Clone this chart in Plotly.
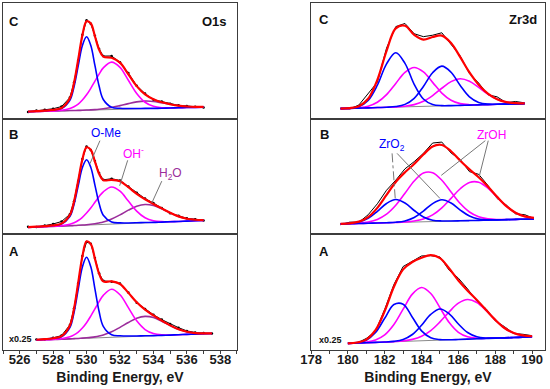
import plotly.graph_objects as go
from plotly.subplots import make_subplots

# ---------------- O1s data (intensity in % of panel height) ----------------
o1s_x_C = [526.5, 527.0, 527.5, 528.0, 528.5, 529.0, 529.25, 529.5, 529.75, 530.0, 530.25, 530.5, 530.75,
           531.0, 531.5, 532.0, 532.5, 533.0, 533.5, 534.0, 534.5, 535.0, 535.5, 536.0, 536.5, 537.0]
o1s_base_C = [6.0, 6.2, 6.4, 6.6, 6.8, 7.0, 7.05, 7.1, 7.2, 7.3, 7.4, 7.5, 7.6, 7.7, 7.9, 8.1, 8.3, 8.5, 8.7,
              8.9, 9.0, 9.2, 9.4, 9.6, 9.8, 10.0]
o1s_ome_C = [0.2, 0.3, 0.5, 0.9, 2.0, 8.9, 20.6, 38.5, 56.0, 63.5, 56.0, 38.5, 20.6, 8.9, 2.0, 0.9, 0.5, 0.3,
             0.2, 0, 0, 0, 0, 0, 0, 0]
o1s_oh_C = [0, 0, 0, 0.09, 0.46, 1.8, 3.3, 5.5, 8.9, 13.3, 18.8, 24.9, 30.9, 36.2, 41, 36.2, 24.9, 13.3, 5.5,
            1.8, 0.46, 0.09, 0, 0, 0, 0]
o1s_h2o_C = [0, 0, 0, 0, 0, 0, 0.02, 0.04, 0.07, 0.13, 0.22, 0.36, 0.58, 0.9, 1.8, 3.2, 4.7, 6.0, 6.5, 6.0,
             4.7, 3.2, 1.8, 0.9, 0.36, 0.13]
o1s_resid_C = [-0.5, 0.5, 0.8, 1.0, 1.2, 0.5, 0.3, -0.8, 0.4, 0.8, -0.3, 0.5, 0.6, 0.4, 1.5, 0.3, 1.0, 0.4,
               0.8, -0.3, 0.6, 0.5, 0.3, 0.5, 0.2, -0.5]

o1s_x_B = [526.5, 527.0, 527.5, 528.0, 528.5, 529.0, 529.25, 529.5, 529.75, 530.0, 530.25, 530.5, 530.75,
           531.0, 531.5, 532.0, 532.5, 533.0, 533.5, 534.0, 534.5, 535.0, 535.5, 536.0, 536.5, 537.0]
o1s_base_B = [6.0, 6.3, 6.6, 6.9, 7.1, 7.4, 7.55, 7.7, 7.85, 8.0, 8.15, 8.3, 8.45, 8.6, 8.9, 9.1, 9.4, 9.7,
              10.0, 10.3, 10.6, 10.9, 11.1, 11.4, 11.7, 12.0]
o1s_ome_B = [0.2, 0.3, 0.45, 0.8, 1.8, 7.9, 18.3, 34.3, 49.9, 56.5, 49.9, 34.3, 18.3, 7.9, 1.8, 0.8, 0.45,
             0.3, 0.2, 0, 0, 0, 0, 0, 0, 0]
o1s_oh_B = [0, 0, 0, 0.07, 0.36, 1.4, 2.5, 4.3, 6.9, 10.4, 14.6, 19.4, 24.2, 28.2, 32, 28.2, 19.4, 10.4, 4.3,
            1.4, 0.36, 0.07, 0, 0, 0, 0]
o1s_h2o_B = [0, 0, 0, 0, 0, 0, 0.05, 0.1, 0.18, 0.3, 0.54, 0.9, 1.4, 2.1, 4.4, 7.7, 11.5, 14.6, 15.8, 14.6,
             11.5, 7.7, 4.4, 2.1, 0.9, 0.3]
o1s_resid_B = [0.4, -0.3, 0.5, 1.2, 1.8, 0.6, 0.3, -0.7, 0.4, 0.8, -0.2, 0.5, 0.6, 0.3, 1.0, 0.8, 0.5, 0.9,
               0.6, 0.8, 0.4, -0.4, 0.6, 0.3, 0.5, -0.3]

o1s_x_A = [527.0, 527.5, 528.0, 528.5, 529.0, 529.25, 529.5, 529.75, 530.0, 530.25, 530.5, 530.75, 531.0,
           531.5, 532.0, 532.5, 533.0, 533.5, 534.0, 534.5, 535.0, 535.5, 536.0, 536.5, 537.0, 537.5]
o1s_base_A = [8.5, 8.8, 9.1, 9.3, 9.6, 9.75, 9.9, 10.05, 10.2, 10.3, 10.4, 10.55, 10.7, 11.0, 11.3, 11.5,
              11.8, 12.1, 12.4, 12.6, 12.9, 13.2, 13.5, 13.7, 14.0, 14.3]
o1s_ome_A = [0.35, 0.56, 1.0, 2.2, 9.8, 22.7, 42.5, 61.8, 70, 61.8, 42.5, 22.7, 9.8, 2.2, 1.0, 0.56, 0.35,
             0.2, 0, 0, 0, 0, 0, 0, 0, 0]
o1s_oh_A = [0, 0.01, 0.09, 0.46, 1.8, 3.3, 5.6, 8.9, 13.4, 19.0, 25.1, 31.3, 36.5, 41.5, 36.5, 25.1, 13.4,
            5.6, 1.8, 0.46, 0.09, 0.01, 0, 0, 0, 0]
o1s_h2o_A = [0, 0, 0, 0, 0, 0.05, 0.1, 0.2, 0.34, 0.58, 0.95, 1.5, 2.3, 4.7, 8.3, 12.3, 15.7, 17, 15.7, 12.3,
             8.3, 4.7, 2.3, 0.95, 0.34, 0.1]
o1s_resid_A = [0.2, -0.2, 0.3, 0.5, 0.4, 0.2, -0.5, 0.3, -0.6, 0.2, 0.6, 0.3, 0.5, -0.4, 0.4, 0.3, -0.3, 0.5,
               0.6, 0.9, 1.2, 1.4, 0.7, 0.5, 0.3, -0.2]

# ---------------- Zr3d data ----------------
zr_x_C = [179.6, 180.1, 180.6, 181.1, 181.6, 182.1, 182.6, 183.1, 183.6, 184.1, 184.6,
          185.1, 185.6, 186.1, 186.6, 187.1, 187.6, 188.1, 188.6, 189.1, 189.6]
zr_base_C = [8.7, 8.9, 9.1, 9.3, 9.6, 9.8, 10.0, 10.2, 10.4, 10.6, 10.9, 11.1, 11.3, 11.5, 11.7, 11.9, 12.1, 12.4, 12.6, 12.8, 13.0]
zr_o1_C = [0.01, 0.18, 1.34, 6.4, 19.3, 37.6, 47, 37.6, 19.3, 6.4, 1.34, 0.18, 0.01, 0, 0, 0, 0, 0, 0, 0, 0]
zr_h1_C = [0.01, 0.07, 0.38, 1.5, 4.6, 11.0, 20.5, 29.8, 33.8, 29.8, 20.5, 11.0, 4.6, 1.5, 0.38, 0.07, 0.01, 0, 0, 0, 0]
zr_o2_C = [0, 0, 0, 0, 0, 0.07, 0.45, 2.15, 7.2, 17.2, 28.8, 34.3, 28.8, 17.2, 7.2, 2.15, 0.45, 0.07, 0, 0, 0]
zr_h2_C = [0, 0, 0, 0, 0, 0.03, 0.15, 0.56, 1.74, 4.4, 9.1, 15.2, 20.7, 23, 20.7, 15.2, 9.1, 4.4, 1.74, 0.56, 0.15]
zr_resid_C = [0.5, -0.8, 1.0, 4.0, -2.0, 2.5, 1.5, 2.0, 1.0, 2.5, 1.5, 2.5, -1.5, 1.0, -1.0, 1.5, -1.0, 2.0, -0.5, 1.5, 0.5]

zr_x_B = [179.6, 180.1, 180.6, 181.1, 181.6, 182.1, 182.6, 183.1, 183.6, 184.1, 184.6,
          185.1, 185.6, 186.1, 186.6, 187.1, 187.6, 188.1, 188.6, 189.1, 189.6, 190.1]
zr_base_B = [9.0, 9.2, 9.4, 9.6, 9.8, 10.0, 10.2, 10.4, 10.6, 10.8, 11.0, 11.3, 11.5, 11.7, 11.9, 12.1, 12.3, 12.5, 12.7, 12.9, 13.1, 13.3]
zr_o1_B = [0.04, 0.26, 1.25, 4.2, 10.0, 16.7, 19.9, 16.7, 10.0, 4.2, 1.25, 0.26, 0.04, 0, 0, 0, 0, 0, 0, 0, 0, 0]
zr_h1_B = [0.02, 0.08, 0.33, 1.1, 3.1, 7.4, 14.9, 25.1, 35.5, 42.3, 42.3, 35.5, 25.1, 14.9, 7.4, 3.1, 1.1, 0.33, 0.08, 0.02, 0, 0]
zr_o2_B = [0, 0, 0, 0, 0, 0.04, 0.25, 1.17, 3.9, 9.3, 15.6, 18.6, 15.6, 9.3, 3.9, 1.17, 0.25, 0.04, 0, 0, 0, 0]
zr_h2_B = [0, 0, 0, 0, 0, 0, 0.06, 0.26, 0.86, 2.4, 5.8, 11.6, 19.6, 27.7, 33.0, 33.0, 27.7, 19.6, 11.6, 5.8, 2.4, 0.86]
zr_resid_B = [-0.8, 1.0, -0.5, 2.0, 3.5, 4.0, 1.5, 3.0, 2.0, 1.0, 3.0, 2.5, -1.5, 1.0, -2.0, 2.5, 1.0, -1.5, 1.0, -1.0, 1.5, -0.5]

zr_x_A = [180.0, 180.5, 181.0, 181.5, 182.0, 182.5, 183.0, 183.5, 184.0, 184.5, 185.0,
          185.5, 186.0, 186.5, 187.0, 187.5, 188.0, 188.5, 189.0, 189.5, 190.0]
zr_base_A = [5.7, 6.0, 6.3, 6.6, 6.8, 7.1, 7.4, 7.7, 8.0, 8.3, 8.6, 8.8, 9.1, 9.4, 9.7, 10.0, 10.3, 10.5, 10.8, 11.1, 11.4]
zr_o1_A = [0.04, 0.38, 2.2, 8.5, 20.6, 32.2, 32.2, 20.6, 8.5, 2.2, 0.38, 0.04, 0, 0, 0, 0, 0, 0, 0, 0, 0]
zr_h1_A = [0.01, 0.1, 0.51, 2.0, 6.2, 14.9, 27.9, 40.6, 46, 40.6, 27.9, 14.9, 6.2, 2.0, 0.51, 0.1, 0.01, 0, 0, 0, 0]
zr_o2_A = [0, 0, 0, 0, 0.05, 0.35, 1.7, 5.7, 13.4, 22.5, 26.8, 22.5, 13.4, 5.7, 1.7, 0.35, 0.05, 0, 0, 0, 0]
zr_h2_A = [0, 0, 0, 0, 0.03, 0.13, 0.49, 1.5, 3.9, 8.5, 15.7, 24.2, 31.4, 34.2, 31.4, 24.2, 15.7, 8.5, 3.9, 1.5, 0.49]
zr_resid_A = [0.5, -0.5, 1.0, -1.0, 1.5, 2.0, 2.5, 1.0, 1.5, -0.5, 1.0, -1.5, 2.0, 1.5, -1.0, 1.0, -0.8, 1.2, -0.5, 1.0, 0.5]

o1s_ticks = [526, 528, 530, 532, 534, 536, 538]
zr_ticks = [178, 180, 182, 184, 186, 188, 190]

BLUE = "#0000FF"
MAG = "#FF00FF"
PUR = "#9B2D9B"
RED = "#FF0000"
GRAY = "#8a8a8a"
FONT = "Liberation Sans, Arial, sans-serif"

fig = make_subplots(rows=3, cols=2, vertical_spacing=0, horizontal_spacing=0.1366)


def add(tr, r, c):
    fig.add_trace(tr, row=r, col=c)


def panel(r, c, x, base, comps, resid, markers):
    tot = [b + sum(cc[i] for cc, _ in comps) for i, b in enumerate(base)]
    dat = [t + e for t, e in zip(tot, resid)]
    add(go.Scatter(x=x, y=base, mode="lines", line=dict(color=GRAY, width=1)), r, c)
    add(go.Scatter(x=x, y=dat, mode="lines+markers" if markers else "lines",
                   line=dict(color="black", width=1),
                   marker=dict(size=2.5, color="black")), r, c)
    for cc, col in comps:
        add(go.Scatter(x=x, y=[b + v for b, v in zip(base, cc)], mode="lines",
                       line=dict(color=col, width=1.6, shape="spline", smoothing=1)), r, c)
    add(go.Scatter(x=x, y=tot, mode="lines",
                   line=dict(color=RED, width=2.2, shape="spline", smoothing=1)), r, c)


panel(1, 1, o1s_x_C, o1s_base_C, [(o1s_h2o_C, PUR), (o1s_oh_C, MAG), (o1s_ome_C, BLUE)], o1s_resid_C, True)
panel(2, 1, o1s_x_B, o1s_base_B, [(o1s_h2o_B, PUR), (o1s_oh_B, MAG), (o1s_ome_B, BLUE)], o1s_resid_B, True)
panel(3, 1, o1s_x_A, o1s_base_A, [(o1s_h2o_A, PUR), (o1s_oh_A, MAG), (o1s_ome_A, BLUE)], o1s_resid_A, True)
panel(1, 2, zr_x_C, zr_base_C, [(zr_h1_C, MAG), (zr_h2_C, MAG), (zr_o1_C, BLUE), (zr_o2_C, BLUE)], zr_resid_C, False)
panel(2, 2, zr_x_B, zr_base_B, [(zr_h1_B, MAG), (zr_h2_B, MAG), (zr_o1_B, BLUE), (zr_o2_B, BLUE)], zr_resid_B, False)
panel(3, 2, zr_x_A, zr_base_A, [(zr_h1_A, MAG), (zr_h2_A, MAG), (zr_o1_A, BLUE), (zr_o2_A, BLUE)], zr_resid_A, False)

axcol = "#3c3c3c"
for r in (1, 2, 3):
    for c in (1, 2):
        rng = [525, 539] if c == 1 else [178, 190.7]
        ticks = o1s_ticks if c == 1 else zr_ticks
        if r == 3:
            fig.update_xaxes(range=rng, showline=True, mirror=True, linecolor=axcol, linewidth=1,
                             showgrid=False, zeroline=False, ticks="outside", ticklen=3,
                             tickcolor=axcol, tickvals=ticks, ticktext=[str(t) for t in ticks],
                             ticklabelstandoff=-6, automargin=False,
                             minor=dict(ticks="outside", ticklen=3, dtick=1, tickcolor=axcol),
                             tickfont=dict(family=FONT, size=13, color="#1a1a1a", weight="bold"),
                             title=dict(text="Binding Energy, eV", standoff=6,
                                        font=dict(family=FONT, size=14, color="#1a1a1a", weight="bold")),
                             row=r, col=c)
        else:
            fig.update_xaxes(range=rng, showline=True, mirror=True, linecolor=axcol, linewidth=1,
                             showgrid=False, zeroline=False, showticklabels=False, ticks="",
                             automargin=False, row=r, col=c)
        fig.update_yaxes(range=[0, 100], showline=True, mirror=True, linecolor=axcol, linewidth=1,
                         showgrid=False, zeroline=False, showticklabels=False, ticks="",
                         automargin=False, row=r, col=c)

ann = []


def txt(ref, x, y, t, size=13, color="#111", bold=True, xanchor="center"):
    s = "" if ref == 1 else str(ref)
    ann.append(dict(xref=f"x{s} domain", yref=f"y{s} domain", x=x, y=y, text=t,
                    showarrow=False, xanchor=xanchor, yanchor="middle",
                    font=dict(family=FONT, size=size, color=color, weight="bold" if bold else "normal")))


# axis refs: (1,1)->1, (1,2)->2, (2,1)->3, (2,2)->4, (3,1)->5, (3,2)->6
txt(1, 0.047, 0.84, "C")
txt(1, 0.965, 0.84, "O1s", xanchor="right")
txt(3, 0.047, 0.86, "B")
txt(5, 0.047, 0.855, "A")
txt(5, 0.017, 0.094, "x0.25", size=9, xanchor="left")
txt(2, 0.056, 0.86, "C")
txt(2, 0.975, 0.86, "Zr3d", xanchor="right")
txt(4, 0.056, 0.86, "B")
txt(6, 0.056, 0.855, "A")
txt(6, 0.026, 0.085, "x0.25", size=9, xanchor="left")


def dtxt(ref, x, y, t, color):
    ann.append(dict(xref=f"x{ref}", yref=f"y{ref}", x=x, y=y, text=t, showarrow=False,
                    xanchor="center", yanchor="middle",
                    font=dict(family=FONT, size=12, color=color)))


dtxt(3, 531.15, 88, "O-Me", BLUE)
dtxt(3, 532.8, 70, "OH<sup>-</sup>", MAG)
dtxt(3, 535.0, 52, "H<sub>2</sub>O", PUR)
dtxt(4, 182.4, 77, "ZrO<sub>2</sub>", BLUE)
dtxt(4, 187.8, 86, "ZrOH", MAG)
fig.update_layout(annotations=ann)

shapes = []


def seg(ref, x0, y0, x1, y1, dash="solid"):
    shapes.append(dict(type="line", xref=f"x{ref}", yref=f"y{ref}", x0=x0, y0=y0, x1=x1, y1=y1,
                       line=dict(color="#777777", width=1, dash=dash)))


seg(3, 530.8, 81, 530.2, 61)
seg(3, 532.46, 64, 531.98, 42)
seg(3, 534.5, 46, 533.9, 27)
seg(4, 182.4, 70, 182.57, 31, "dashdot")
seg(4, 182.67, 70, 185.0, 31)
seg(4, 187.46, 81, 185.07, 51)
seg(4, 187.62, 81, 187.13, 50)
fig.update_layout(shapes=shapes)

fig.update_layout(width=550, height=389, margin=dict(l=3, r=5, t=3, b=39, autoexpand=False),
                  paper_bgcolor="white", plot_bgcolor="white", showlegend=False)

fig.write_html("out.html", config={"displayModeBar": False},
               post_script="document.body.style.margin='0px';document.body.style.overflow='hidden';")
